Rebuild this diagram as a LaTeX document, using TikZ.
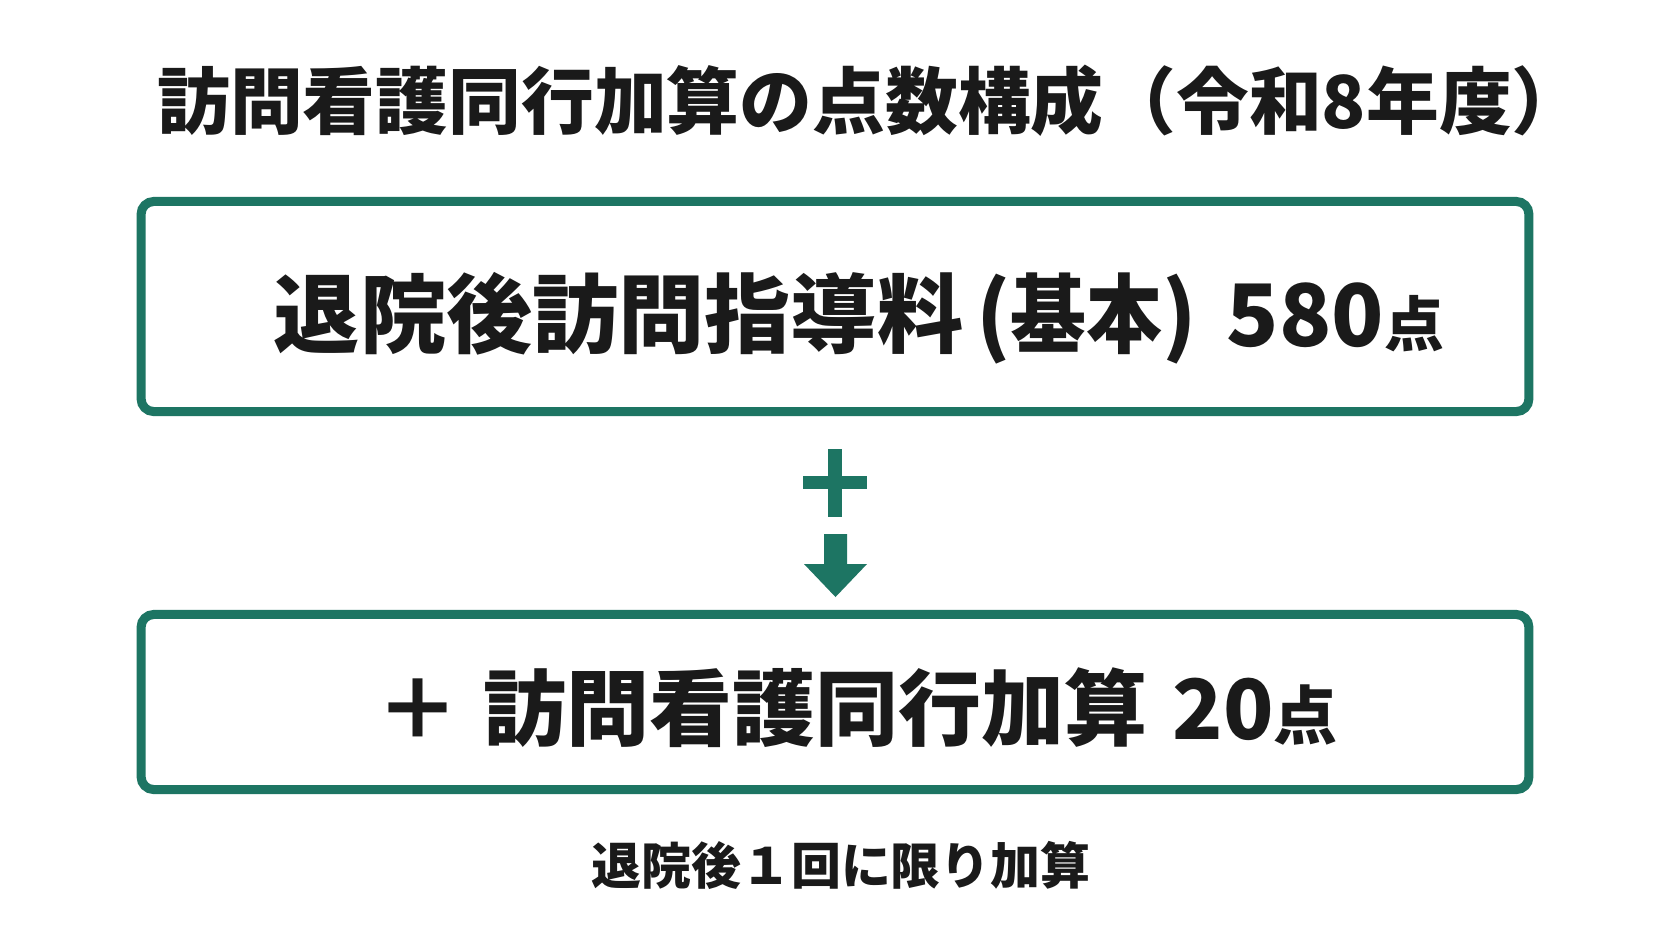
\documentclass[tikz,border=0pt]{standalone}
\usepackage{fontspec}
\newfontfamily\jp{Noto Sans CJK JP}
\definecolor{teal1}{RGB}{29,117,99}
\definecolor{ink}{RGB}{26,26,26}
\tikzset{
  panel/.style={draw=teal1, line width=2.56pt, rounded corners=3.6pt, fill=white, inner sep=0pt},
  label/.style={anchor=base, inner sep=0pt, text=ink, font=\jp\bfseries},
  mark1/.style={fill=teal1, draw=none}
}
\begin{document}
\begin{tikzpicture}[x=0.01cm, y=-0.01cm]
\useasboundingbox[fill=white] (0,0) rectangle (1672,941);
% title
\node[label, font=\jp\bfseries\fontsize{20.7}{24}\selectfont] (title) at (871,128) {訪問看護同行加算の点数構成（令和8年度）};
% boxes
\node[panel, minimum width=13.87cm, minimum height=2.10cm] (box1) at (835,306.5) {};
\node[panel, minimum width=13.87cm, minimum height=1.75cm] (box2) at (835,702) {};
% box texts
\node[label, font=\jp\bfseries\fontsize{24.5}{28}\selectfont] (t1) at (859,346) {退院後訪問指導料\hspace{0.15em}(\scalebox{0.88}[1]{基本})\hspace{0.35em}580{\fontsize{17}{20}\selectfont 点}};
\node[label, font=\jp\bfseries\fontsize{23.6}{28}\selectfont] (t2) at (857,739) {＋\hspace{0.3em}訪問看護同行加算\hspace{0.3em}20{\fontsize{18.2}{20}\selectfont 点}};
% plus sign
\fill[mark1] (803,476) rectangle (867,489);
\fill[mark1] (828,449) rectangle (842,517);
% down arrow
\fill[mark1] (824,534) -- (847,534) -- (847,564) -- (867,564) -- (835.5,597) -- (804,564) -- (824,564) -- cycle;
% footer
\node[label, font=\jp\bfseries\fontsize{14.2}{17}\selectfont] (note) at (841,884) {退院後１回に限り加算};
\end{tikzpicture}
\end{document}
